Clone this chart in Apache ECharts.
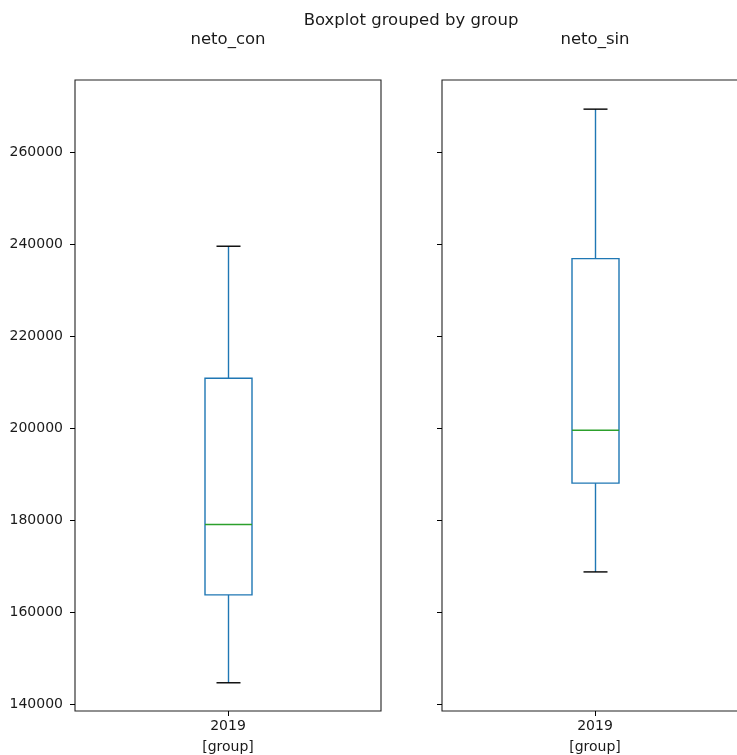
<!DOCTYPE html>
<html>
<head>
<meta charset="utf-8">
<script src="https://cdn.jsdelivr.net/npm/echarts@6/dist/echarts.min.js"></script>
<style>
  html, body { margin: 0; padding: 0; background: #fff; }
  #chart { width: 737px; height: 755px; }
</style>
</head>
<body>
<div id="chart"></div>
<script>
// data
const categories = ['2019'];
// [low whisker, q1, median, q3, high whisker]
const netoCon = [144600, 163700, 179000, 210800, 239500];
const netoSin = [168700, 188000, 199500, 236800, 269300];
const yTicks = [140000, 160000, 180000, 200000, 220000, 240000, 260000];
const panelTitles = ['neto_con', 'neto_sin'];

const font = 'DejaVu Sans';
const blue = '#1f77b4';
const green = '#2ca02c';

function renderBox(params, api) {
  var x = api.value(0);
  var lo = api.coord([x, api.value(1)]);
  var q1 = api.coord([x, api.value(2)]);
  var med = api.coord([x, api.value(3)]);
  var q3 = api.coord([x, api.value(4)]);
  var hi = api.coord([x, api.value(5)]);
  var cx = Math.round(lo[0]) + 0.5;
  var bw = 47, cw = 24;
  var lw = 1.4;
  return {
    type: 'group',
    children: [
      {type: 'line', shape: {x1: cx, y1: q3[1], x2: cx, y2: hi[1]}, style: {stroke: blue, lineWidth: lw}},
      {type: 'line', shape: {x1: cx, y1: q1[1], x2: cx, y2: lo[1]}, style: {stroke: blue, lineWidth: lw}},
      {type: 'line', shape: {x1: cx - cw / 2, y1: hi[1], x2: cx + cw / 2, y2: hi[1]}, style: {stroke: '#000', lineWidth: lw}},
      {type: 'line', shape: {x1: cx - cw / 2, y1: lo[1], x2: cx + cw / 2, y2: lo[1]}, style: {stroke: '#000', lineWidth: lw}},
      {type: 'rect', shape: {x: cx - bw / 2, y: q3[1], width: bw, height: q1[1] - q3[1]}, style: {fill: null, stroke: blue, lineWidth: lw}},
      {type: 'line', shape: {x1: cx - bw / 2, y1: med[1], x2: cx + bw / 2, y2: med[1]}, style: {stroke: green, lineWidth: lw}}
    ]
  };
}

function yAxisFor(idx, showLabels) {
  return {
    type: 'value',
    gridIndex: idx,
    min: 138465,
    max: 275635,
    axisLine: {show: false},
    splitLine: {show: false},
    axisTick: {show: true, inside: false, length: 5, customValues: yTicks, lineStyle: {color: '#000', width: 1}},
    axisLabel: {
      show: showLabels,
      customValues: yTicks,
      margin: 12,
      color: '#1a1a1a',
      fontFamily: font,
      fontSize: 14,
      formatter: function (v) { return String(v); }
    }
  };
}

function xAxisFor(idx) {
  return {
    type: 'category',
    gridIndex: idx,
    data: categories,
    boundaryGap: true,
    name: '[group]',
    nameLocation: 'middle',
    nameGap: 29,
    nameTextStyle: {color: '#1a1a1a', fontFamily: font, fontSize: 14},
    axisLine: {show: false},
    axisTick: {show: true, alignWithLabel: true, length: 5, lineStyle: {color: '#000', width: 1}},
    axisLabel: {margin: 8, color: '#1a1a1a', fontFamily: font, fontSize: 14}
  };
}

var chart = echarts.init(document.getElementById('chart'));
var option = {
  animation: false,
  backgroundColor: '#fff',
  grid: [
    {left: 75, top: 80, width: 306, height: 631, outerBoundsMode: 'none', show: true, borderColor: '#222', borderWidth: 1.1, backgroundColor: 'transparent'},
    {left: 442, top: 80, width: 306, height: 631, outerBoundsMode: 'none', show: true, borderColor: '#222', borderWidth: 1.1, backgroundColor: 'transparent'}
  ],
  xAxis: [xAxisFor(0), xAxisFor(1)],
  yAxis: [yAxisFor(0, true), yAxisFor(1, false)],
  graphic: [
    {type: 'text', x: 411, y: 21, style: {text: 'Boxplot grouped by group', font: '16.5px "DejaVu Sans"', fill: '#1a1a1a', textAlign: 'center', textVerticalAlign: 'middle'}},
    {type: 'text', x: 228, y: 40, style: {text: panelTitles[0], font: '16.5px "DejaVu Sans"', fill: '#1a1a1a', textAlign: 'center', textVerticalAlign: 'middle'}},
    {type: 'text', x: 595, y: 40, style: {text: panelTitles[1], font: '16.5px "DejaVu Sans"', fill: '#1a1a1a', textAlign: 'center', textVerticalAlign: 'middle'}}
  ],
  series: [
    {
      name: panelTitles[0],
      type: 'custom',
      xAxisIndex: 0,
      yAxisIndex: 0,
      renderItem: renderBox,
      encode: {x: 0, y: [1, 2, 3, 4, 5]},
      data: [[0].concat(netoCon)]
    },
    {
      name: panelTitles[1],
      type: 'custom',
      xAxisIndex: 1,
      yAxisIndex: 1,
      renderItem: renderBox,
      encode: {x: 0, y: [1, 2, 3, 4, 5]},
      data: [[0].concat(netoSin)]
    }
  ]
};
chart.setOption(option);
</script>
</body>
</html>
